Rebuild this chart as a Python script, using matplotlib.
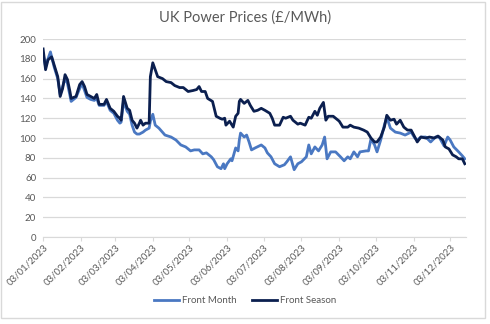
import matplotlib
matplotlib.use("Agg")
import matplotlib.pyplot as plt
import matplotlib.dates as mdates
import numpy as np
import pandas as pd

plt.rcParams['font.family'] = ['Lato', 'DejaVu Sans']

title = "UK Power Prices (£/MWh)"
series_names = ["Front Month", "Front Season"]

fm_dates = ["2023-01-03", "2023-01-05", "2023-01-07", "2023-01-09", "2023-01-12", "2023-01-15",
            "2023-01-17", "2023-01-19", "2023-01-21", "2023-01-23", "2023-01-25", "2023-01-26",
            "2023-01-30", "2023-02-02", "2023-02-04", "2023-02-06", "2023-02-08", "2023-02-11",
            "2023-02-14", "2023-02-16", "2023-02-18", "2023-02-22", "2023-02-24", "2023-02-27",
            "2023-03-02", "2023-03-05", "2023-03-07", "2023-03-08", "2023-03-10", "2023-03-13",
            "2023-03-15", "2023-03-17", "2023-03-19", "2023-03-21", "2023-03-23", "2023-03-26",
            "2023-03-28", "2023-03-31", "2023-04-01", "2023-04-03", "2023-04-05", "2023-04-08",
            "2023-04-13", "2023-04-18", "2023-04-22", "2023-04-26", "2023-04-30", "2023-05-04",
            "2023-05-07", "2023-05-11", "2023-05-14", "2023-05-17", "2023-05-21", "2023-05-23",
            "2023-05-26", "2023-05-29", "2023-05-31", "2023-06-01", "2023-06-03", "2023-06-06",
            "2023-06-07", "2023-06-10", "2023-06-12", "2023-06-13", "2023-06-14", "2023-06-17",
            "2023-06-19", "2023-06-21", "2023-06-23", "2023-06-26", "2023-07-01", "2023-07-04",
            "2023-07-06", "2023-07-09", "2023-07-12", "2023-07-16", "2023-07-20", "2023-07-22",
            "2023-07-25", "2023-07-28", "2023-07-31", "2023-08-03", "2023-08-07", "2023-08-09",
            "2023-08-11", "2023-08-14", "2023-08-17", "2023-08-20", "2023-08-22", "2023-08-24",
            "2023-08-27", "2023-08-31", "2023-09-04", "2023-09-07", "2023-09-10", "2023-09-12",
            "2023-09-15", "2023-09-18", "2023-09-20", "2023-09-25", "2023-09-27", "2023-09-29",
            "2023-10-02", "2023-10-04", "2023-10-07", "2023-10-10", "2023-10-12", "2023-10-15",
            "2023-10-19", "2023-10-23", "2023-10-27", "2023-11-01", "2023-11-04", "2023-11-06",
            "2023-11-09", "2023-11-13", "2023-11-17", "2023-11-21", "2023-11-24", "2023-11-28",
            "2023-12-01", "2023-12-03", "2023-12-06", "2023-12-10", "2023-12-13", "2023-12-15"]
front_month = [185, 172, 180, 187, 172, 160,
               144, 152, 160, 155, 143, 137,
               141, 150, 155, 148, 141, 139,
               138, 140, 133, 133, 137, 128,
               125, 118, 115, 116, 137, 127,
               124, 113, 106, 104, 104, 106,
               108, 110, 117, 124, 113, 110,
               103, 101, 98, 93, 91, 87,
               88, 88, 84, 85, 81, 78,
               71, 69, 74, 69, 74, 79,
               77, 90, 87, 98, 105, 101,
               103, 96, 88, 90, 93, 90,
               85, 81, 74, 71, 73, 76,
               81, 68, 74, 76, 81, 93,
               84, 91, 87, 93, 101, 79,
               86, 86, 81, 77, 81, 79,
               86, 81, 86, 87, 87, 99,
               93, 86, 98, 113, 121, 110,
               106, 105, 103, 106, 100, 98,
               101, 101, 96, 101, 101, 92,
               101, 98, 91, 86, 82, 79]

fs_dates = ["2023-01-03", "2023-01-05", "2023-01-07", "2023-01-10", "2023-01-12", "2023-01-15",
            "2023-01-17", "2023-01-19", "2023-01-21", "2023-01-23", "2023-01-25", "2023-01-26",
            "2023-01-30", "2023-02-02", "2023-02-04", "2023-02-06", "2023-02-08", "2023-02-11",
            "2023-02-14", "2023-02-16", "2023-02-18", "2023-02-22", "2023-02-24", "2023-02-27",
            "2023-03-02", "2023-03-05", "2023-03-07", "2023-03-08", "2023-03-10", "2023-03-13",
            "2023-03-15", "2023-03-17", "2023-03-19", "2023-03-21", "2023-03-23", "2023-03-24",
            "2023-03-26", "2023-03-28", "2023-03-31", "2023-04-01", "2023-04-02", "2023-04-03",
            "2023-04-05", "2023-04-07", "2023-04-11", "2023-04-14", "2023-04-18", "2023-04-21",
            "2023-04-25", "2023-04-28", "2023-05-02", "2023-05-06", "2023-05-09", "2023-05-11",
            "2023-05-13", "2023-05-16", "2023-05-18", "2023-05-22", "2023-05-25", "2023-05-28",
            "2023-05-30", "2023-06-01", "2023-06-02", "2023-06-05", "2023-06-08", "2023-06-10",
            "2023-06-12", "2023-06-13", "2023-06-14", "2023-06-17", "2023-06-20", "2023-06-22",
            "2023-06-25", "2023-06-28", "2023-07-01", "2023-07-04", "2023-07-08", "2023-07-10",
            "2023-07-12", "2023-07-16", "2023-07-19", "2023-07-21", "2023-07-25", "2023-07-27",
            "2023-07-31", "2023-08-02", "2023-08-06", "2023-08-09", "2023-08-11", "2023-08-14",
            "2023-08-16", "2023-08-18", "2023-08-21", "2023-08-23", "2023-08-25", "2023-08-29",
            "2023-09-03", "2023-09-06", "2023-09-10", "2023-09-12", "2023-09-15", "2023-09-19",
            "2023-09-23", "2023-09-26", "2023-09-29", "2023-10-02", "2023-10-04", "2023-10-07",
            "2023-10-10", "2023-10-12", "2023-10-15", "2023-10-18", "2023-10-20", "2023-10-23",
            "2023-10-26", "2023-10-29", "2023-11-01", "2023-11-04", "2023-11-06", "2023-11-09",
            "2023-11-13", "2023-11-16", "2023-11-20", "2023-11-23", "2023-11-27", "2023-11-29",
            "2023-12-02", "2023-12-05", "2023-12-08", "2023-12-10", "2023-12-13", "2023-12-15"]
front_season = [190, 169, 179, 182, 174, 162,
                142, 150, 164, 159, 147, 140,
                142, 154, 157, 152, 144, 142,
                140, 144, 134, 134, 139, 130,
                127, 122, 120, 118, 142, 130,
                128, 118, 115, 110, 115, 118,
                113, 115, 115, 162, 169, 176,
                169, 162, 160, 157, 156, 153,
                151, 151, 147, 148, 149, 152,
                147, 147, 140, 137, 122, 120,
                119, 120, 113, 117, 111, 122,
                125, 137, 139, 135, 138, 133,
                127, 128, 130, 128, 125, 120,
                113, 113, 121, 120, 122, 118,
                114, 115, 113, 121, 120, 127,
                123, 130, 136, 118, 122, 122,
                117, 111, 111, 113, 111, 110,
                108, 106, 100, 96, 96, 101,
                111, 123, 118, 119, 114, 118,
                111, 108, 108, 101, 96, 101,
                100, 101, 100, 102, 98, 91,
                89, 83, 81, 79, 79, 74]

y_ticks = [0, 20, 40, 60, 80, 100, 120, 140, 160, 180, 200]
x_tick_dates = ["2023-01-03", "2023-02-03", "2023-03-03", "2023-04-03", "2023-05-03", "2023-06-03",
                "2023-07-03", "2023-08-03", "2023-09-03", "2023-10-03", "2023-11-03", "2023-12-03"]

fm_x = pd.to_datetime(fm_dates)
fs_x = pd.to_datetime(fs_dates)
xt = pd.to_datetime(x_tick_dates)

fig = plt.figure(figsize=(4.9, 3.24), dpi=100)
fig.patch.set_facecolor("white")
# outer chart border
border = plt.Rectangle((0.002, 0.02), 0.988, 0.975, transform=fig.transFigure,
                       fill=False, edgecolor="#d9d9d9", linewidth=1.0)
fig.add_artist(border)

ax = fig.add_axes([0.088, 0.2685, 0.863, 0.611])
light = "#4A78C2"
dark = "#0B1F4F"
ax.plot(fm_x, front_month, color=light, linewidth=2.0, label=series_names[0], solid_joinstyle="round")
ax.plot(fs_x, front_season, color=dark, linewidth=2.0, label=series_names[1], solid_joinstyle="round")

ax.set_ylim(0, 200)
ax.set_yticks(y_ticks)
ax.set_xlim(pd.Timestamp("2023-01-03"), pd.Timestamp("2023-12-16"))
ax.set_xticks(xt)
ax.xaxis.set_major_formatter(mdates.DateFormatter("%d/%m/%Y"))
ax.grid(axis="y", color="#d9d9d9", linewidth=0.9)
ax.set_axisbelow(True)
for s in ["top", "right", "left"]:
    ax.spines[s].set_visible(False)
ax.spines["bottom"].set_color("#d9d9d9")
ax.tick_params(axis="y", length=0, labelsize=7, labelcolor="#595959", pad=5)
ax.tick_params(axis="x", length=3, color="#d9d9d9", labelsize=7, labelcolor="#595959", pad=1)
for lab in ax.get_xticklabels():
    lab.set_rotation(45)
    lab.set_ha("right")
    lab.set_rotation_mode("anchor")

fig.text(0.5, 0.947, title, ha="center", va="center", fontsize=10.5, color="#595959")

leg = fig.legend(loc="center", bbox_to_anchor=(0.5, 0.072), ncol=2, frameon=False,
                 fontsize=7, labelcolor="#595959", handlelength=2.6, handletextpad=0.25,
                 columnspacing=1.6)

fig.savefig("out.png", dpi=100, facecolor="white")
